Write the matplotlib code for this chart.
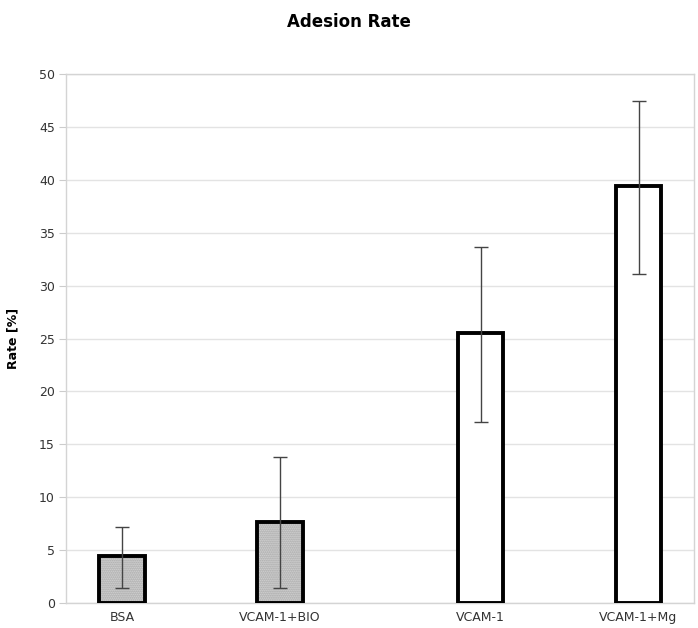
import numpy as np
import matplotlib.pyplot as plt

categorias = ["BSA", "VCAM-1+BIO", "VCAM-1", "VCAM-1+Mg"]
taxa = [4.4, 7.7, 25.5, 39.4]
erro_inf = [1.4, 1.4, 17.1, 31.1]
erro_sup = [7.2, 13.8, 33.7, 47.5]
pontilhado = [True, True, False, False]

plt.rcParams['font.family'] = ['DejaVu Sans']

# grupos de controle e de teste separados por um espaco extra
pos = np.arange(len(categorias)) + np.array([0, 0, 0.27, 0.27])
larg = 0.29

fig = plt.figure(figsize=(6.98, 6.28), dpi=100)
ax = fig.add_axes([0.0946, 0.0398, 0.8994, 0.8422])

for x, v, p in zip(pos, taxa, pontilhado):
    if p:
        ax.bar(x, v, larg, color='#d9d9d9', hatch='........', edgecolor='#a0a0a0',
               linewidth=0, zorder=2)
    else:
        ax.bar(x, v, larg, color='white', linewidth=0, zorder=2)
    ax.bar(x, v, larg, fill=False, edgecolor='black', linewidth=2.8, zorder=3)

taxa_a = np.array(taxa)
yerr = [taxa_a - np.array(erro_inf), np.array(erro_sup) - taxa_a]
ax.errorbar(pos, taxa, yerr=yerr, fmt='none', ecolor='#444444', elinewidth=1,
            capsize=5, capthick=1, zorder=4)

ax.set_xlim(-0.354, 3.62)
ax.set_ylim(0, 50)
ax.set_yticks(np.arange(0, 51, 5))
ax.set_xticks(pos)
ax.set_xticklabels(categorias)
ax.tick_params(axis='x', length=0, pad=6, labelsize=9, colors='#333333')
ax.tick_params(axis='y', length=5, color='#cccccc', pad=3, labelsize=9,
               colors='#333333')
ax.grid(axis='y', color='#e3e3e3', linewidth=1, zorder=0)
ax.set_axisbelow(True)
for s in ax.spines.values():
    s.set_color('#d4d4d4')
    s.set_linewidth(1)

ax.set_ylabel("Rate [%]", fontsize=9, fontweight='bold', labelpad=14)
fig.suptitle("Adesion Rate", fontsize=12, fontweight='bold', y=0.98)

fig.savefig("out.png", dpi=100)
